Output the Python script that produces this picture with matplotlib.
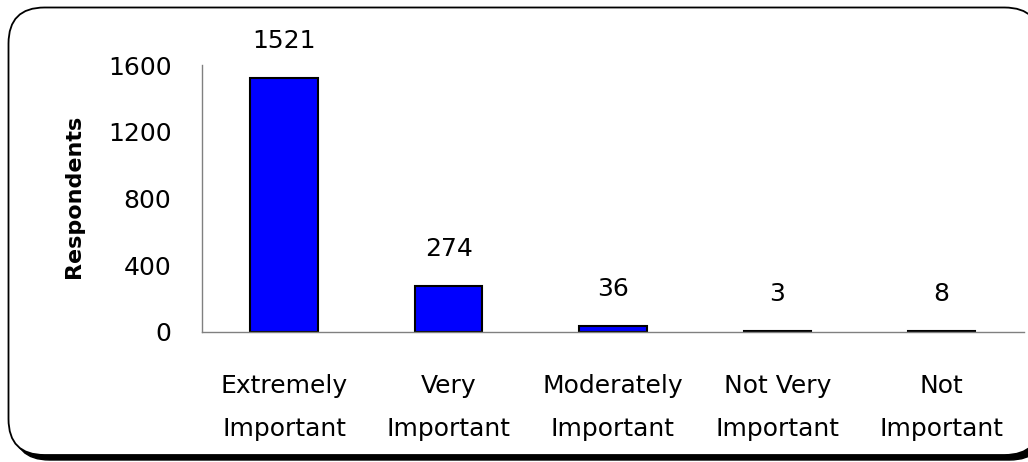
import matplotlib
matplotlib.use('Agg')
import matplotlib.pyplot as plt
from matplotlib.patches import FancyBboxPatch

categories = ['Extremely\nImportant', 'Very\nImportant', 'Moderately\nImportant',
              'Not Very\nImportant', 'Not\nImportant']
respondents = [1521, 274, 36, 3, 8]
yticks = [0, 400, 800, 1200, 1600]

fig = plt.figure(figsize=(10.28, 4.62), dpi=100)

# rounded frame with a black drop shadow (drawn behind the axes)
shadow = FancyBboxPatch((0.135, 0.02), 10.32, 4.47, boxstyle='round,pad=0,rounding_size=0.36',
                        transform=fig.dpi_scale_trans, facecolor='black', edgecolor='black', zorder=-2)
frame = FancyBboxPatch((0.085, 0.07), 10.32, 4.475, boxstyle='round,pad=0,rounding_size=0.36',
                       transform=fig.dpi_scale_trans, facecolor='white', edgecolor='black',
                       linewidth=1.3, zorder=-1)
fig.add_artist(shadow)
fig.add_artist(frame)

ax = fig.add_axes([0.1965, 0.2814, 0.7995, 0.5776])
ax.patch.set_visible(False)
x = range(len(categories))
bars = ax.bar(x, respondents, width=0.41, color='#0000FF', edgecolor='black', linewidth=1.5, zorder=2)

for xi, v in zip(x, respondents):
    ax.annotate(str(v), (xi, v), xytext=(0, 18), textcoords='offset points',
                ha='center', va='bottom', fontsize=18)

ax.set_xlim(-0.5, 4.5)
ax.set_ylim(0, 1600)
ax.set_yticks(yticks)
ax.set_xticks(list(x))
ax.set_xticklabels(categories, fontsize=18, linespacing=2.0)
ax.tick_params(axis='y', length=0, pad=22, labelsize=18)
ax.tick_params(axis='x', length=0, pad=30)
ax.set_ylabel('Respondents', fontsize=16, fontweight='bold')
ax.yaxis.set_label_coords(-0.143, 0.51)

for s in ['top', 'right']:
    ax.spines[s].set_visible(False)
for s in ['left', 'bottom']:
    ax.spines[s].set_color('#808080')
    ax.spines[s].set_linewidth(1.0)
    ax.spines[s].set_zorder(3)

fig.savefig('out.png', dpi=100)
